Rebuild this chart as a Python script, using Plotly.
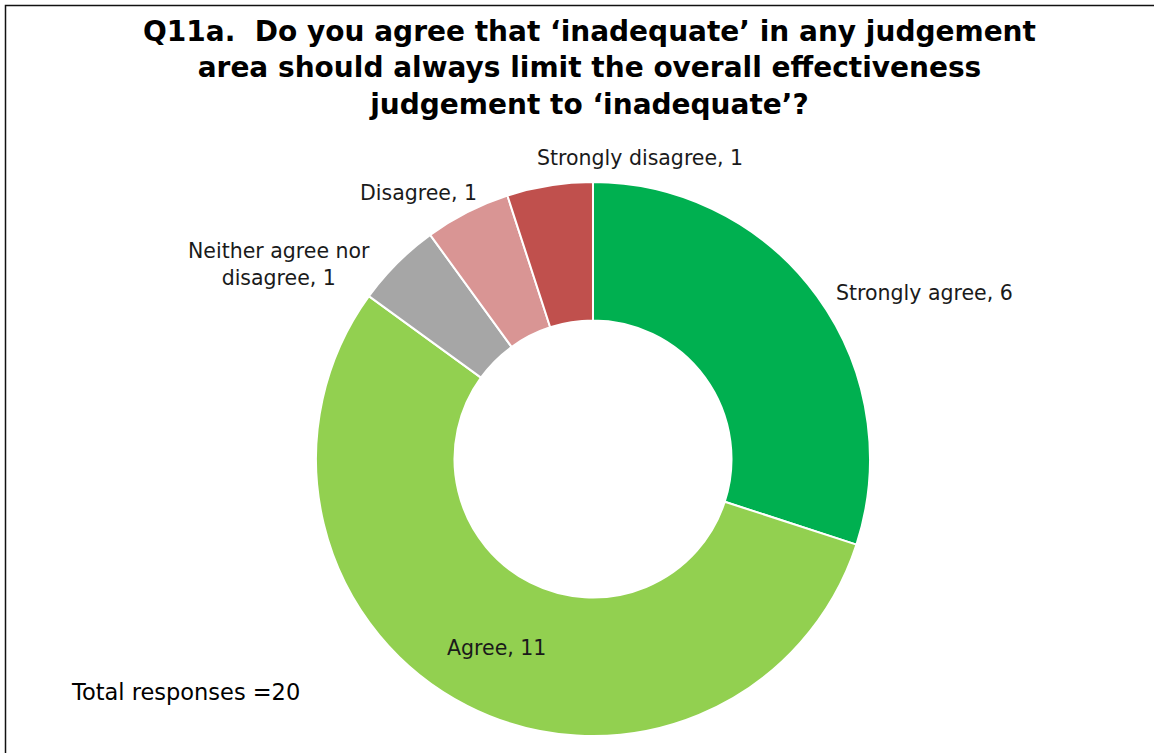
import plotly.graph_objects as go

# Survey responses
categories = ["Strongly agree", "Agree", "Neither agree nor disagree", "Disagree", "Strongly disagree"]
counts = [6, 11, 1, 1, 1]
colors = ["#00B050", "#92D050", "#A6A6A6", "#D99594", "#C0504D"]
# label line breaks as shown on the chart
label_text = ["Strongly agree", "Agree", "Neither agree nor<br>disagree", "Disagree", "Strongly disagree"]

W, H = 1154, 753
# donut placement in pixels
cx, cy, r = 593, 459, 277

# label anchor points in pixels (centre of each text block)
label_pos = [(924, 293), (497, 648), (279, 264), (418, 193), (640, 158)]

fig = go.Figure(go.Pie(
    labels=categories,
    values=counts,
    hole=0.5,
    sort=False,
    direction="clockwise",
    rotation=0,
    textinfo="none",
    hoverinfo="label+value",
    marker=dict(colors=colors, line=dict(color="white", width=2)),
    domain=dict(x=[(cx - r) / W, (cx + r) / W], y=[1 - (cy + r) / H, 1 - (cy - r) / H]),
    showlegend=False,
))

annotations = []
for txt, n, (px, py) in zip(label_text, counts, label_pos):
    annotations.append(dict(
        x=px / W, y=1 - py / H, xref="paper", yref="paper",
        text=f"{txt}, {n}", showarrow=False, align="center",
        xanchor="center", yanchor="middle",
        font=dict(family="DejaVu Sans", size=20.5, color="#1a1a1a"),
    ))

annotations.append(dict(
    x=69 / W, y=1 - 692 / H, xref="paper", yref="paper",
    text=f"Total responses ={sum(counts)}", showarrow=False,
    xanchor="left", yanchor="middle",
    font=dict(family="DejaVu Sans", size=22.5, color="black"),
))

annotations.append(dict(
    x=589 / W, y=1 - 68 / H, xref="paper", yref="paper",
    text="<b>Q11a.  Do you agree that ‘inadequate’ in any judgement<br>"
         "area should always limit the overall effectiveness<br>"
         "judgement to ‘inadequate’?</b>",
    showarrow=False, align="center", xanchor="center", yanchor="middle",
    font=dict(family="DejaVu Sans", size=28, color="black"),
))

fig.update_layout(
    width=W, height=H,
    margin=dict(l=0, r=0, t=0, b=0),
    paper_bgcolor="white",
    plot_bgcolor="white",
    annotations=annotations,
    shapes=[dict(
        type="rect", xref="paper", yref="paper",
        x0=5.5 / W, x1=1.02, y0=-0.02, y1=1 - 5.5 / H,
        line=dict(color="#111111", width=1.5),
    )],
)

fig.write_html("out.html")
